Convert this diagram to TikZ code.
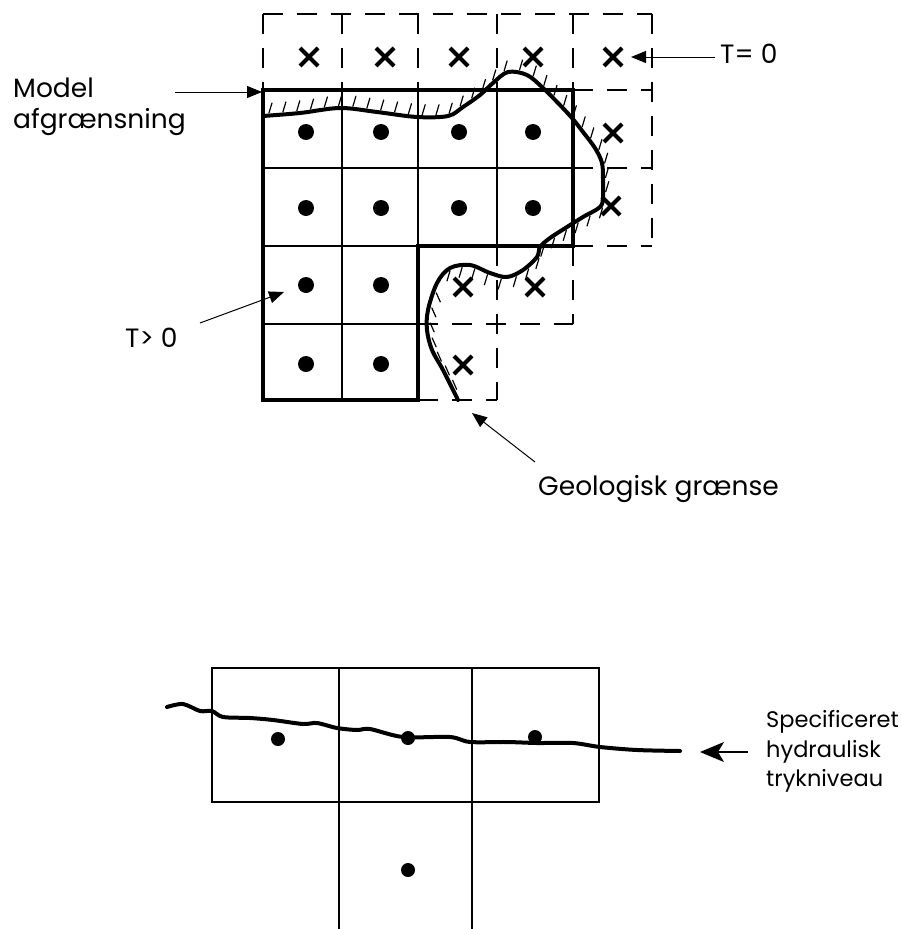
\documentclass[tikz,border=0pt]{standalone}
\usepackage{fontspec}
\setmainfont{Poppins}
\usetikzlibrary{arrows.meta,decorations.markings}
\begin{document}
\begin{tikzpicture}[x=1pt,y=-1pt,
  gridline/.style={line width=2pt},
  bound/.style={line width=3.5pt,line join=miter},
  dashgrid/.style={line width=1.8pt,dash pattern=on 20pt off 14pt},
  curve/.style={line width=4pt,line cap=round,line join=round},
  hatchline/.style={line width=1.2pt,line cap=round},
  lbl/.style={inner sep=0pt,anchor=base west,font=\fontsize{26.5}{32}\selectfont},
  slbl/.style={inner sep=0pt,anchor=base west,font=\fontsize{22.5}{27}\selectfont},
  ptr/.style={line width=1pt,-{Triangle[length=15pt,width=12pt]}},
  bigptr/.style={line width=1.2pt,-{Stealth[length=24pt,width=20pt,inset=6pt]}},
  crossmark/.style={line width=4pt},
  hatched/.style={postaction={decorate},decoration={markings,
    mark=between positions 0.008 and 0.56 step 14pt with {\pgftransformshift{\pgfpoint{0pt}{2.5pt}}\pgftransformresetnontranslations\draw[hatchline] (0pt,0pt)--(3pt,10pt);},
    mark=between positions 0.575 and 0.83 step 14pt with {\pgftransformshift{\pgfpoint{0pt}{2.5pt}}\pgftransformresetnontranslations\draw[hatchline] (0pt,0pt)--(-3pt,-10pt);},
    mark=between positions 0.85 and 0.99 step 16pt with {\pgftransformshift{\pgfpoint{0pt}{3.5pt}}\pgftransformresetnontranslations\draw[hatchline] (0pt,1pt)--(4pt,-8pt);}
  }}
]
\path[use as bounding box] (0,0) rectangle (902,929);

% ---------- upper figure: dashed cells ----------
\draw[dashgrid] (263,14)--(652,14);
\foreach \x in {263,342,418,497,573} \draw[dashgrid] (\x,14)--(\x,90);
\draw[dashgrid] (652,14)--(652,246);
\foreach \y in {90,168,246} \draw[dashgrid] (573,\y)--(652,\y);
\draw[dashgrid] (497,246)--(497,400);
\draw[dashgrid] (573,246)--(573,324);
\draw[dashgrid] (418,324)--(573,324);
\draw[dashgrid] (418,400)--(497,400);

% ---------- upper figure: model cells ----------
\draw[gridline] (342,90)--(342,400) (418,90)--(418,246) (497,90)--(497,246)
  (263,168)--(573,168) (263,246)--(418,246) (263,324)--(418,324);
\draw[bound] (263,90)--(573,90)--(573,246)--(418,246)--(418,400)--(263,400)--cycle;

% dots
\foreach \x/\y in {306/132,381/132,459/132,533/132,
                   306/208,381/208,459/208,533/208,
                   306/285,381/285,306/364,381/364}
  \fill ({\x},{\y}) circle (8);
% crosses
\foreach \x/\y in {309/57,385/57,459/57,533/57,613/57,
                   613/133,611/206,463/287,535/287,463/365}
  \draw[crossmark] ({\x-9},{\y-9})--({\x+9},{\y+9}) ({\x-9},{\y+9})--({\x+9},{\y-9});

% geological boundary
\draw[curve,hatched] plot[smooth,tension=0.55] coordinates {
  (263,116) (300,113) (340,108) (377,112) (417,117) (448,116) (463,107)
  (480,95) (493,83) (508,72) (527,75) (543,88) (558,103) (572,118)
  (583,132) (595,148) (602,163) (603,180) (603,197) (600,207) (583,217)
  (567,227) (550,238) (540,247) (537,257) (523,270) (507,277) (490,273)
  (470,265) (450,268) (437,283) (428,310) (427,330) (432,350) (443,370) (458,400)};

% labels upper
\node[lbl] (model) at (13,97) {Model};
\node[lbl] (afgr) at (13,128) {afgrænsning};
\coordinate (mA) at (175,92);
\coordinate (mB) at (262,92);
\draw[ptr] (mA) -- (mB);

\node[lbl] (tzero) at (720,63) {T= 0};
\coordinate (tzA) at (715,57);
\coordinate (tzB) at (631,57);
\draw[ptr] (tzA) -- (tzB);

\node[lbl] (tpos) at (125,347) {T> 0};
\coordinate (tpA) at (200,323);
\coordinate (tpB) at (284,292);
\draw[ptr] (tpA) -- (tpB);

\node[lbl] (geo) at (538,495) {Geologisk grænse};
\coordinate (geA) at (535,462);
\coordinate (geB) at (472,413);
\draw[ptr] (geA) -- (geB);

% ---------- lower figure ----------
\draw[gridline] (212,668) rectangle (599,802);
\draw[gridline] (339,668)--(339,929) (472,668)--(472,929);
\draw[curve] plot[smooth,tension=0.5] coordinates {
  (167,707) (183,704) (200,711) (212,711) (223,717) (250,718) (273,720)
  (303,724) (317,723) (337,728) (357,730) (370,729) (403,737) (450,737)
  (470,742) (507,742) (537,743) (573,743) (600,747) (637,750) (680,751)};
\foreach \x/\y in {278/739,408/738,535/737,408/870}
  \fill ({\x},{\y}) circle (7);

\node[slbl] (spec) at (766,727) {Specificeret};
\node[slbl] (hydr) at (766,757) {hydraulisk};
\node[slbl] (tryk) at (766,786) {trykniveau};
\coordinate (spA) at (748,752);
\coordinate (spB) at (700,752);
\draw[bigptr] (spA) -- (spB);
\end{tikzpicture}
\end{document}
